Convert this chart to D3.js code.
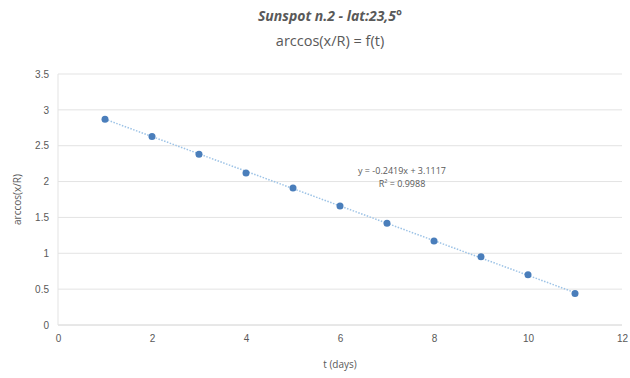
<!DOCTYPE html>
<html>
<head>
<meta charset="utf-8">
<script src="https://cdn.jsdelivr.net/npm/d3@7"></script>
<style>
  body { margin: 0; background: #fff; }
  svg { font-family: "Open Sans", "Liberation Sans", sans-serif; }
</style>
</head>
<body>
<div id="chart"></div>
<script>
const days = [1, 2, 3, 4, 5, 6, 7, 8, 9, 10, 11];
const arccosValues = [2.87, 2.63, 2.38, 2.12, 1.91, 1.66, 1.42, 1.17, 0.95, 0.70, 0.44];
const xTicks = [0, 2, 4, 6, 8, 10, 12];
const yTicks = [0, 0.5, 1, 1.5, 2, 2.5, 3, 3.5];
const trendSlope = -0.2419;
const trendIntercept = 3.1117;
const trendLabels = ["y = -0.2419x + 3.1117", "R\u00b2 = 0.9988"];

const width = 630, height = 378;
const margin = { top: 74, right: 8, bottom: 53, left: 58 };

const svg = d3.select("#chart").append("svg")
  .attr("width", width).attr("height", height);

const x = d3.scaleLinear().domain([0, 12]).range([margin.left, width - margin.right]);
const y = d3.scaleLinear().domain([0, 3.5]).range([height - margin.bottom, margin.top]);

// gridlines
svg.append("g")
  .selectAll("line")
  .data(yTicks.filter(d => d > 0))
  .join("line")
  .attr("x1", x(0)).attr("x2", x(12))
  .attr("y1", d => y(d)).attr("y2", d => y(d))
  .attr("stroke", "#e3e3e3");

// axis lines
svg.append("line")
  .attr("x1", x(0)).attr("x2", x(12))
  .attr("y1", y(0)).attr("y2", y(0))
  .attr("stroke", "#d0d0d0");
svg.append("line")
  .attr("x1", x(0)).attr("x2", x(0))
  .attr("y1", y(0)).attr("y2", y(3.5))
  .attr("stroke", "#e3e3e3");

// tick labels
const xAxis = svg.append("g")
  .attr("transform", `translate(0,${y(0)})`)
  .call(d3.axisBottom(x).tickValues(xTicks).tickSize(0).tickPadding(10));
xAxis.select(".domain").remove();
xAxis.selectAll("text").attr("fill", "#595959").style("font-size", "10px");

const yAxis = svg.append("g")
  .attr("transform", `translate(${x(0)},0)`)
  .call(d3.axisLeft(y).tickValues(yTicks).tickSize(0).tickPadding(9).tickFormat(d3.format("")));
yAxis.select(".domain").remove();
yAxis.selectAll("text").attr("fill", "#595959").style("font-size", "10px");

// trendline
svg.append("line")
  .attr("x1", x(days[0])).attr("x2", x(days[days.length - 1]))
  .attr("y1", y(trendSlope * days[0] + trendIntercept))
  .attr("y2", y(trendSlope * days[days.length - 1] + trendIntercept))
  .attr("stroke", "#9dc3e6")
  .attr("stroke-width", 1.5)
  .attr("stroke-dasharray", "1.5,1.5");

// points
svg.append("g")
  .selectAll("circle")
  .data(days)
  .join("circle")
  .attr("cx", d => x(d))
  .attr("cy", (d, i) => y(arccosValues[i]))
  .attr("r", 3.5)
  .attr("fill", "#4a7ebb");

// trendline equation
svg.append("g")
  .selectAll("text")
  .data(trendLabels)
  .join("text")
  .attr("x", 402)
  .attr("y", (d, i) => 174 + i * 13)
  .attr("text-anchor", "middle")
  .attr("fill", "#595959")
  .style("font-size", "9px")
  .text(d => d);

// titles
svg.append("text")
  .attr("x", 330).attr("y", 21)
  .attr("text-anchor", "middle")
  .attr("fill", "#595959")
  .style("font-size", "14px")
  .style("font-weight", "bold")
  .style("font-style", "italic")
  .text("Sunspot n.2 - lat:23,5\u00b0");

svg.append("text")
  .attr("x", 330).attr("y", 46)
  .attr("text-anchor", "middle")
  .attr("fill", "#595959")
  .style("font-size", "14.5px")
  .text("arccos(x/R) = f(t)");

svg.append("text")
  .attr("x", 340).attr("y", 368)
  .attr("text-anchor", "middle")
  .attr("fill", "#595959")
  .style("font-size", "10px")
  .text("t  (days)");

svg.append("text")
  .attr("transform", `translate(21,${y(1.75)}) rotate(-90)`)
  .attr("text-anchor", "middle")
  .attr("fill", "#595959")
  .style("font-size", "10px")
  .text("arccos(x/R)");
</script>
</body>
</html>
